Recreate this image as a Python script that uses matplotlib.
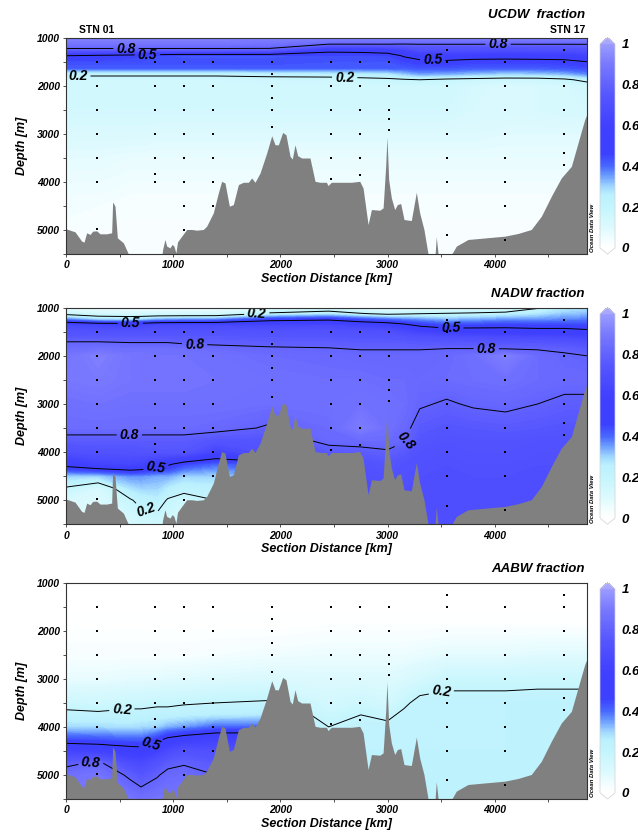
import numpy as np
import matplotlib
matplotlib.use("Agg")
import matplotlib.pyplot as plt
from matplotlib.colors import LinearSegmentedColormap, Normalize
from matplotlib.ticker import MultipleLocator
import matplotlib.cm as cm

plt.rcParams['font.family'] = ['Liberation Sans', 'DejaVu Sans']
plt.rcParams['font.weight'] = 'bold'
plt.rcParams['font.style'] = 'italic'
plt.rcParams['axes.labelweight'] = 'bold'

# ---- grid of the gridded sections (km along section, depth in m)
dist_km = [0, 300, 600, 700, 850, 950, 1100, 1400, 1900, 2450,
           2750, 3000, 3150, 3300, 3550, 3800, 4100, 4400, 4650, 4860]
depth_m = [1000, 1125, 1250, 1375, 1500, 1625, 1750, 1875, 2000, 2500, 3000,
           3500, 3750, 4000, 4250, 4500, 4750, 5000, 5500]

ucdw = [
    [.93, .93, .93, .93, .93, .93, .93, .93, .93, .93, .93, .93, .93, .93, .93, .93, .93, .93, .93, .93],
    [.88, .88, .88, .88, .88, .88, .88, .88, .87, .82, .82, .82, .81, .81, .81, .81, .81, .81, .81, .81],
    [.78, .78, .78, .78, .78, .78, .78, .78, .78, .54, .55, .57, .63, .70, .70, .70, .69, .70, .70, .71],
    [.50, .48, .46, .45, .44, .43, .42, .42, .42, .44, .44, .45, .51, .56, .57, .56, .55, .56, .56, .60],
    [.44, .44, .44, .44, .44, .44, .44, .44, .44, .43, .43, .43, .45, .47, .48, .46, .46, .46, .47, .50],
    [.42, .42, .42, .42, .42, .42, .42, .42, .42, .42, .42, .42, .42, .43, .43, .42, .42, .42, .43, .44],
    [.23, .23, .23, .23, .23, .23, .23, .23, .24, .25, .26, .27, .31, .35, .34, .32, .30, .31, .33, .37],
    [.15, .15, .15, .15, .15, .15, .15, .15, .16, .16, .17, .18, .19, .20, .18, .17, .16, .16, .18, .23],
    [.15, .15, .15, .15, .15, .15, .15, .15, .15, .15, .15, .15, .15, .15, .15, .13, .11, .12, .13, .15],
    [.14, .14, .14, .14, .14, .14, .14, .14, .14, .14, .14, .14, .14, .14, .14, .12, .12, .12, .13, .13],
    [.11, .11, .11, .11, .10, .10, .10, .10, .10, .10, .10, .10, .10, .10, .10, .10, .09, .09, .09, .09],
    [.08, .08, .07, .07, .07, .07, .07, .07, .07, .07, .07, .07, .07, .07, .07, .07, .07, .07, .07, .07],
    [.07, .07, .06, .06, .06, .06, .06, .06, .06, .06, .06, .06, .06, .06, .06, .06, .06, .06, .06, .06],
    [.06, .06, .05, .05, .05, .05, .05, .05, .05, .05, .05, .05, .05, .05, .05, .05, .05, .05, .05, .05],
    [.05, .05, .04, .04, .04, .04, .04, .04, .04, .04, .04, .04, .04, .04, .04, .04, .04, .04, .04, .04],
    [.05, .04, .04, .04, .04, .04, .04, .04, .04, .04, .04, .04, .04, .04, .04, .04, .04, .04, .04, .04],
    [.04, .04, .03, .03, .03, .03, .03, .03, .03, .03, .03, .03, .03, .03, .03, .03, .03, .03, .03, .03],
    [.04, .03, .03, .03, .03, .03, .03, .03, .03, .03, .03, .03, .03, .03, .03, .03, .03, .03, .03, .03],
    [.03, .03, .02, .02, .02, .02, .02, .02, .02, .02, .02, .02, .02, .02, .02, .02, .02, .02, .02, .02],
]

nadw = [
    [.06, .05, .05, .05, .05, .05, .05, .05, .08, .12, .07, .05, .05, .06, .07, .08, .09, .19, .26, .28],
    [.17, .13, .12, .12, .12, .12, .12, .12, .22, .26, .21, .18, .19, .20, .21, .22, .24, .27, .31, .32],
    [.38, .30, .29, .30, .34, .35, .36, .37, .47, .49, .44, .40, .38, .36, .33, .34, .36, .36, .37, .38],
    [.66, .64, .62, .64, .66, .66, .66, .66, .65, .66, .62, .60, .55, .49, .45, .46, .47, .46, .46, .45],
    [.72, .72, .72, .72, .72, .72, .72, .72, .72, .72, .71, .70, .66, .62, .58, .57, .56, .55, .55, .53],
    [.76, .76, .76, .76, .76, .76, .76, .76, .75, .75, .74, .74, .73, .72, .70, .69, .68, .67, .66, .64],
    [.82, .82, .81, .81, .81, .81, .80, .79, .78, .78, .77, .77, .77, .76, .76, .76, .75, .75, .74, .72],
    [.85, .87, .86, .86, .86, .86, .85, .84, .82, .81, .80, .80, .80, .80, .81, .81, .81, .80, .79, .77],
    [.88, .92, .88, .88, .87, .87, .87, .86, .84, .83, .82, .82, .82, .82, .83, .86, .92, .84, .81, .80],
    [.89, .90, .88, .88, .88, .88, .88, .87, .86, .85, .85, .84, .84, .83, .84, .85, .86, .84, .83, .83],
    [.86, .87, .86, .86, .86, .86, .86, .86, .85, .86, .87, .86, .85, .81, .79, .81, .82, .80, .78, .78],
    [.84, .84, .84, .84, .84, .84, .84, .83, .79, .84, .91, .86, .83, .76, .74, .75, .76, .75, .74, .74],
    [.77, .77, .77, .77, .77, .77, .77, .74, .74, .83, .84, .84, .81, .74, .72, .73, .73, .72, .72, .72],
    [.70, .72, .72, .73, .74, .74, .74, .62, .72, .76, .77, .79, .76, .72, .71, .72, .72, .71, .71, .71],
    [.55, .62, .64, .62, .55, .52, .45, .40, .45, .72, .72, .74, .72, .71, .70, .71, .71, .70, .70, .70],
    [.30, .30, .36, .36, .34, .34, .30, .30, .35, .70, .70, .72, .71, .70, .70, .70, .70, .70, .70, .70],
    [.19, .12, .28, .30, .30, .26, .23, .25, .30, .70, .70, .70, .70, .70, .70, .70, .70, .70, .70, .70],
    [.12, .10, .19, .23, .25, .19, .16, .20, .25, .70, .70, .70, .70, .70, .70, .70, .70, .70, .70, .70],
    [.08, .10, .12, .14, .15, .13, .12, .15, .20, .70, .70, .70, .70, .70, .70, .70, .70, .70, .70, .70],
]

aabw = [
    [.00, .00, .00, .00, .00, .00, .00, .00, .00, .00, .00, .00, .00, .00, .00, .00, .00, .00, .00, .00],
    [.00, .00, .00, .00, .00, .00, .00, .00, .00, .00, .00, .00, .00, .00, .00, .00, .00, .00, .00, .00],
    [.00, .00, .00, .00, .00, .00, .00, .00, .00, .00, .00, .00, .00, .00, .00, .00, .00, .00, .00, .00],
    [.00, .00, .00, .00, .00, .00, .00, .00, .00, .00, .00, .00, .00, .00, .00, .00, .00, .00, .00, .00],
    [.00, .00, .00, .00, .00, .00, .00, .00, .00, .00, .00, .00, .00, .00, .00, .00, .00, .00, .00, .00],
    [.00, .00, .00, .00, .00, .00, .00, .00, .00, .00, .00, .00, .00, .00, .00, .00, .00, .00, .00, .00],
    [.01, .01, .01, .01, .01, .01, .01, .01, .01, .01, .01, .01, .01, .01, .01, .01, .01, .01, .01, .01],
    [.01, .01, .01, .01, .01, .01, .01, .01, .01, .01, .01, .01, .01, .01, .01, .01, .01, .01, .01, .01],
    [.01, .01, .01, .01, .01, .01, .01, .01, .01, .02, .02, .02, .02, .02, .03, .03, .03, .03, .03, .03],
    [.03, .03, .03, .03, .03, .03, .03, .04, .05, .06, .06, .06, .06, .07, .08, .08, .08, .09, .09, .09],
    [.07, .07, .08, .08, .08, .09, .09, .10, .11, .10, .10, .10, .11, .13, .17, .17, .17, .17, .17, .17],
    [.16, .15, .17, .17, .18, .18, .19, .20, .21, .14, .16, .14, .18, .23, .23, .23, .23, .24, .24, .24],
    [.23, .22, .23, .23, .24, .24, .25, .26, .27, .17, .20, .18, .22, .23, .23, .23, .23, .24, .24, .24],
    [.29, .29, .28, .29, .30, .33, .35, .40, .40, .20, .22, .22, .23, .23, .23, .23, .23, .24, .24, .24],
    [.43, .42, .40, .40, .46, .52, .56, .60, .60, .22, .23, .23, .23, .23, .23, .23, .23, .24, .24, .24],
    [.62, .60, .56, .55, .60, .66, .72, .70, .70, .23, .23, .23, .23, .23, .23, .23, .23, .24, .24, .24],
    [.77, .82, .68, .66, .72, .77, .79, .76, .76, .24, .24, .24, .24, .24, .24, .24, .24, .24, .24, .24],
    [.86, .88, .78, .74, .79, .83, .84, .80, .80, .24, .24, .24, .24, .24, .24, .24, .24, .24, .24, .24],
    [.90, .90, .88, .86, .88, .88, .88, .84, .84, .24, .24, .24, .24, .24, .24, .24, .24, .24, .24, .24],
]

# ---- bathymetry (km, depth m)
bathy_km = [0, 84, 146, 168, 193, 224, 249, 286, 317, 379, 426, 435, 457, 479, 535, 581, 590,
            890, 902, 923, 939, 970, 990, 1007, 1025, 1040, 1079, 1126, 1172, 1219, 1281, 1312,
            1374, 1421, 1452, 1483, 1524, 1561, 1608, 1654, 1701, 1732, 1763, 1810, 1872, 1919,
            1950, 1981, 2021, 2052, 2090, 2111, 2136, 2161, 2198, 2276, 2323, 2370, 2429, 2444,
            2475, 2662, 2740, 2771, 2818, 2849, 2927, 2958, 2982, 2994, 3010, 3035, 3066, 3091,
            3122, 3153, 3221, 3268, 3299, 3339, 3377, 3390, 3440, 3454, 3476, 3590, 3600, 3641,
            3750, 4092, 4216, 4340, 4434, 4527, 4620, 4714, 4776, 4838, 4863]
bathy_depth = [4976, 5039, 5232, 5253, 5059, 5094, 5025, 5018, 5080, 5080, 5059, 4416, 4506,
               5163, 5267, 5495, 5600, 5600, 5400, 5198, 5336, 5371, 5300, 5336, 5480, 5250,
               5129, 4990, 4990, 5004, 4990, 4921, 4645, 4230, 3988, 4022, 4506, 4471, 4056,
               4008, 4008, 3918, 4008, 3815, 3400, 3040, 3228, 3228, 2971, 3020, 3469, 3524,
               3228, 3455, 3503, 3503, 3988, 4008, 4008, 4077, 4008, 4008, 3988, 4126, 4886,
               4575, 4589, 4541, 3676, 3068, 3953, 4333, 4575, 4471, 4451, 4783, 4804, 4216,
               4645, 4990, 5495, 5600, 5600, 5142, 5600, 5600, 5495, 5336, 5198, 5129, 5073,
               4990, 4714, 4299, 3918, 3676, 3192, 2708, 2570]

# ---- sample positions
stn_km = [286, 830, 1104, 1374, 1925, 2469, 2740, 3010, 3554, 4092, 4646]
stn_depths = [
    [1000, 1500, 2000, 2500, 3000, 3500, 4000, 4980],
    [1000, 1500, 2000, 2500, 3000, 3500, 3830, 4000],
    [1000, 1500, 2000, 2500, 3000, 3500, 4000, 4500, 5000],
    [1000, 1500, 2000, 2500, 3000, 3500, 4000, 4500],
    [1000, 1500, 1750, 2000, 2250, 2500, 2850],
    [1500, 2000, 2500, 3000, 3500, 3950],
    [1000, 1500, 2000, 2500, 3000, 3500, 3850],
    [1000, 1500, 2000, 2500, 2700, 2930],
    [1000, 1250, 1500, 2000, 2500, 3000, 3500, 4000, 4500, 5110],
    [1000, 1500, 2000, 2500, 3000, 3500, 4000, 4500, 5200],
    [1000, 1250, 1500, 2000, 2500, 3000, 3400, 3640],
]

titles = ['UCDW  fraction', 'NADW fraction', 'AABW fraction']
contour_levels = [0.2, 0.5, 0.8]
label_pos = [
    [(560, 1230), (4030, 1135), (760, 1355), (3420, 1450), (110, 1780), (2600, 1810)],
    [(600, 1320), (1780, 1140), (1200, 1740), (3590, 1430), (3920, 1860),
     (590, 3620), (3170, 3760), (840, 4340), (770, 5020)],
    [(230, 4700), (520, 3600), (790, 4330), (3500, 3260)],
]

# ODV-like white -> cyan -> blue -> lavender palette
cm_stops = [
    (0.00, (255, 255, 255)), (0.05, (240, 253, 255)), (0.10, (220, 250, 254)),
    (0.18, (200, 246, 253)), (0.26, (186, 240, 253)), (0.30, (160, 215, 255)),
    (0.35, (110, 160, 255)), (0.40, (72, 104, 255)), (0.46, (60, 64, 255)),
    (0.60, (64, 64, 255)), (0.75, (86, 86, 255)), (0.90, (120, 120, 255)),
    (1.00, (155, 155, 255)),
]
cmap = LinearSegmentedColormap.from_list(
    'odv', [(v, tuple(c / 255 for c in rgb)) for v, rgb in cm_stops])
cmap.set_over('#a8a8ff')
cmap.set_under('white')

W, H = 638, 834
def rect(l, t, r, b):
    return [l / W, 1 - b / H, (r - l) / W, (b - t) / H]

panel_tb = [(37.7, 254), (307.7, 524.3), (582.7, 799)]
title_y = [1.107, 1.061, 1.064]

fig = plt.figure(figsize=(W / 100, H / 100), dpi=100)
X, Y = np.meshgrid(dist_km, depth_m)

for i, Z in enumerate([ucdw, nadw, aabw]):
    top, bot = panel_tb[i]
    ax = fig.add_axes(rect(66, top, 587, bot))
    Z = np.array(Z)
    ax.contourf(X, Y, Z, levels=np.linspace(0, 1, 101), cmap=cmap, extend='both',
                antialiased=False, zorder=1)
    cs = ax.contour(X, Y, Z, levels=contour_levels, colors='k', linewidths=0.7, zorder=2)
    labs = ax.clabel(cs, fmt='%.1f', manual=label_pos[i], inline=True,
                     inline_spacing=3, fontsize=10)
    for t in labs:
        t.set_fontweight('bold')
        t.set_fontstyle('italic')
        t.set_zorder(2.5)
    ax.fill_between(bathy_km, bathy_depth, 5700, color='#808080', lw=0, zorder=3)
    for xk, ds in zip(stn_km, stn_depths):
        ax.plot([xk] * len(ds), ds, 's', ms=1.6, mew=0, color='k', zorder=4)

    ax.set_xlim(0, 4860)
    ax.set_ylim(5500, 1000)
    ax.set_xticks([0, 1000, 2000, 3000, 4000])
    ax.set_yticks([1000, 2000, 3000, 4000, 5000])
    ax.xaxis.set_minor_locator(MultipleLocator(500))
    ax.yaxis.set_minor_locator(MultipleLocator(500))
    ax.tick_params(which='both', direction='out', length=2.5, width=0.6,
                   colors='#333333', labelcolor='black', labelsize=7.5, pad=2)
    for s in ax.spines.values():
        s.set_linewidth(0.8)
        s.set_color('#333333')
        s.set_zorder(5)
    ax.set_xlabel('Section Distance [km]', fontsize=9, labelpad=2)
    ax.set_ylabel('Depth [m]', fontsize=9, labelpad=6)
    ax.text(0.996, title_y[i], titles[i], transform=ax.transAxes, ha='right',
            va='center', fontsize=9.5)
    ax.text(1.0106, 0.008, 'Ocean Data View', transform=ax.transAxes, rotation=90,
            ha='center', va='bottom', fontsize=4.3)
    if i == 0:
        ax.text(0.025, 1.036, 'STN 01', transform=ax.transAxes, ha='left',
                va='center', fontsize=7.5, fontstyle='normal')
        ax.text(0.996, 1.036, 'STN 17', transform=ax.transAxes, ha='right',
                va='center', fontsize=7.5, fontstyle='normal')

    cax = fig.add_axes(rect(600, top, 615, bot))
    sm = cm.ScalarMappable(norm=Normalize(0, 1), cmap=cmap)
    cb = fig.colorbar(sm, cax=cax, extend='both', extendfrac=0.03,
                      ticks=[0, 0.2, 0.4, 0.6, 0.8, 1])
    cb.ax.set_yticklabels(['0', '0.2', '0.4', '0.6', '0.8', '1'])
    cb.outline.set_edgecolor('#d0d0d0')
    cb.outline.set_linewidth(0.5)
    cb.ax.tick_params(length=0, pad=5, labelsize=9.5)

fig.savefig('out.png', dpi=100)
